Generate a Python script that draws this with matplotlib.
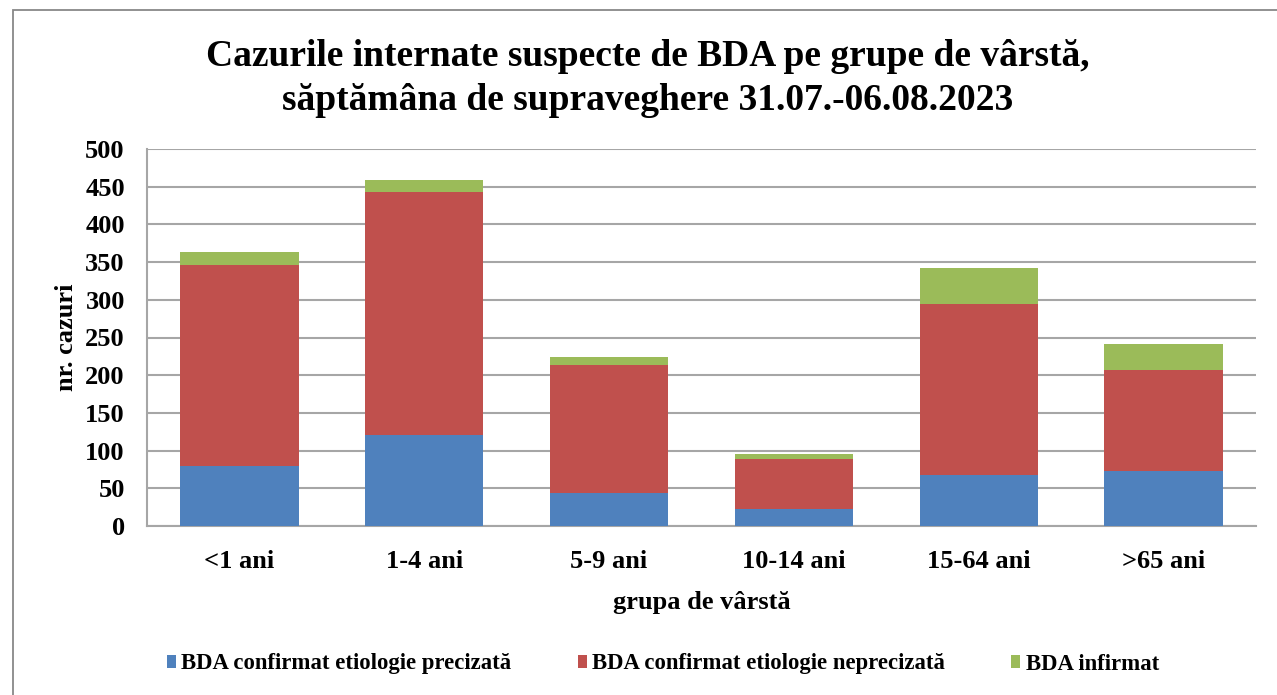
import matplotlib
matplotlib.use("Agg")
import matplotlib.pyplot as plt
from matplotlib.patches import Rectangle
import numpy as np

plt.rcParams['font.family'] = ['Liberation Serif', 'DejaVu Serif']
plt.rcParams['font.weight'] = 'bold'

grupe = ["<1 ani", "1-4 ani", "5-9 ani", "10-14 ani", "15-64 ani", ">65 ani"]
precizata = [79, 121, 44, 22, 68, 73]
neprecizata = [267, 322, 169, 67, 226, 134]
infirmat = [17, 16, 11, 6, 48, 34]
serii = ["BDA confirmat etiologie precizată",
         "BDA confirmat etiologie neprecizată",
         "BDA infirmat"]
culori = ["#4F81BD", "#C0504D", "#9BBB59"]

fig = plt.figure(figsize=(12.77, 6.95), dpi=100)
# chenarul exterior
fig.patches.append(Rectangle((13/1277, -0.1), 1.2, (695-10)/695 + 0.1,
                             transform=fig.transFigure, fill=False,
                             edgecolor="#888888", linewidth=1.3))
ax = fig.add_axes([147/1277, 1-526/695, 1109/1277, 377/695])

x = np.arange(len(grupe))
jos = np.zeros(len(grupe))
for vals, lab, c in zip([precizata, neprecizata, infirmat], serii, culori):
    ax.bar(x, vals, 0.64, bottom=jos, color=c, label=lab, zorder=3)
    jos = jos + np.array(vals)

ax.set_xlim(-0.5, 5.5)
ax.set_ylim(0, 500)
ax.set_yticks(range(0, 501, 50))
ax.yaxis.grid(True, color="#A6A6A6", linewidth=1.5, zorder=0)
ax.set_xticks(x)
ax.set_xticklabels(grupe)
ax.tick_params(axis="y", length=0, pad=16, labelsize=19)
ax.tick_params(axis="x", length=0, pad=17, labelsize=19)
for s in ["top", "right"]:
    ax.spines[s].set_visible(False)
for s in ["left", "bottom"]:
    ax.spines[s].set_color("#A6A6A6")
    ax.spines[s].set_linewidth(1.5)

ax.set_xlabel("grupa de vârstă", fontsize=19, fontweight="bold", labelpad=13)
ax.set_ylabel("nr. cazuri", fontsize=19, fontweight="bold", labelpad=5)

fig.text(648/1277, 1-57/695, "Cazurile internate suspecte de BDA pe grupe de vârstă,",
         ha="center", va="center", fontsize=27, fontweight="bold")
fig.text(648/1277, 1-100/695, "săptămâna de supraveghere 31.07.-06.08.2023",
         ha="center", va="center", fontsize=27, fontweight="bold")

fig.legend(loc="center", bbox_to_anchor=(663/1277, 1-664/695), ncol=3,
           frameon=False, fontsize=16.4, handlelength=0.4, handleheight=0.55,
           handletextpad=0.25, columnspacing=2.9)

fig.savefig("out.png", dpi=100)
